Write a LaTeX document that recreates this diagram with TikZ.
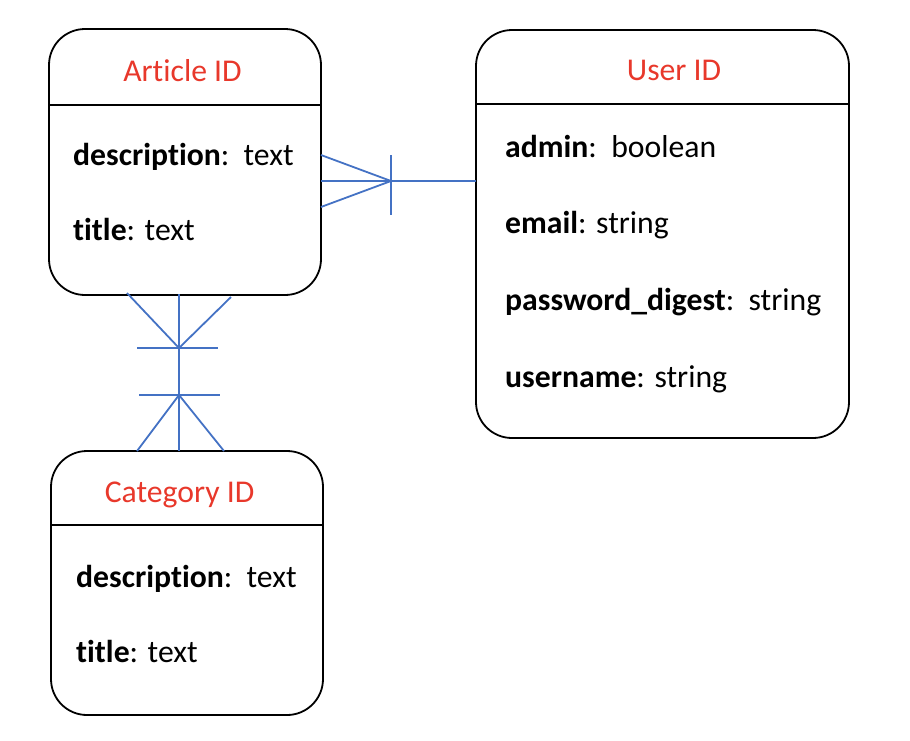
\documentclass[tikz,border=0pt]{standalone}
\usepackage{fontspec}
\setmainfont[Ligatures=CommonOff]{Carlito}
\definecolor{titlered}{HTML}{E8382B}
\definecolor{linkblue}{HTML}{4472C4}
\begin{document}
\begin{tikzpicture}[x=1pt,y=-1pt,
  entity/.style={draw=black,line width=1.8pt,rounded corners=36pt},
  headline/.style={draw=black,line width=2.8pt},
  ttl/.style={font=\fontsize{31.7}{36}\selectfont,text=titlered,inner sep=0pt,anchor=base},
  attr/.style={font=\fontsize{31.7}{36}\selectfont,inner sep=0pt,anchor=base west},
  rel/.style={draw=linkblue,line width=1.8pt}]
\useasboundingbox (0,0) rectangle (910,740);
% Article
\draw[entity] (49,29) rectangle (321,295);
\draw[headline] (49,105) -- (321,105);
\node[ttl] (arttitle) at (182.5,81) {Article ID};
\node[attr] (artdesc) at (73,165) {\textbf{description}:\ \ text};
\node[attr] (arttit) at (73,240) {\textbf{title}: text};
% User
\draw[entity] (476,30) rectangle (849,438);
\draw[headline] (476,104) -- (849,104);
\node[ttl] (usertitle) at (674,80) {User ID};
\node[attr] (uadmin) at (505,157) {\textbf{admin}:\ \ boolean};
\node[attr] (uemail) at (505,233) {\textbf{email}: string};
\node[attr] (upass) at (505,310) {\textbf{password\_digest}:\ \ string};
\node[attr] (uname) at (505,387) {\textbf{username}: string};
% Category
\draw[entity] (51,451) rectangle (323,715);
\draw[headline] (51,525) -- (323,525);
\node[ttl] (cattitle) at (179.5,502) {Category ID};
\node[attr] (catdesc) at (76,587) {\textbf{description}:\ \ text};
\node[attr] (cattit) at (76,662) {\textbf{title}: text};
% Article -- User relation
\coordinate (r1a) at (321,181);
\coordinate (r1b) at (476,181);
\coordinate (r1p) at (391,181);
\draw[rel] (r1a) -- (r1b);
\draw[rel] (r1p) -- (321,155);
\draw[rel] (r1p) -- (321,207);
\draw[rel] (391,155) -- (391,215);
% Article -- Category relation
\coordinate (r2a) at (179,294);
\coordinate (r2b) at (179,451);
\coordinate (r2p) at (179,348);
\coordinate (r2q) at (179,395);
\draw[rel] (r2a) -- (r2b);
\draw[rel] (r2p) -- (127,293);
\draw[rel] (r2p) -- (231,297);
\draw[rel] (137,348) -- (218,348);
\draw[rel] (r2q) -- (137,451);
\draw[rel] (r2q) -- (224,451);
\draw[rel] (139,395) -- (220,395);
\end{tikzpicture}
\end{document}
